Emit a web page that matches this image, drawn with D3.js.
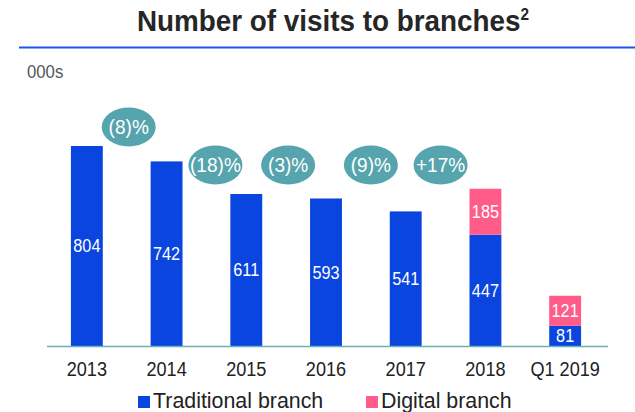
<!DOCTYPE html>
<html><head><meta charset="utf-8">
<script src="https://cdn.jsdelivr.net/npm/d3@7"></script>
<style>body{margin:0;background:#fff;} svg{display:block;font-family:"Liberation Sans",Arial,sans-serif;}</style>
</head><body>
<svg id="c" width="635" height="412"></svg>
<script>
const categories = ["2013","2014","2015","2016","2017","2018","Q1 2019"];
const traditional = [804,742,611,593,541,447,81];
const digital = [0,0,0,0,0,185,121];
const growthLabels = ["(8)%","(18)%","(3)%","(9)%","+17%"];
const seriesNames = ["Traditional branch","Digital branch"];

const svg = d3.select("#c");
const blue = "#0b45e0", pink = "#ff5c8a", teal = "#56a4ae";
const SX = 0.93;

function txt(parent, x, y, s, size, anchor, fill, sx){
  return parent.append("text")
    .attr("transform",`translate(${x},${y}) scale(${sx||SX},1)`)
    .attr("text-anchor",anchor||"start").attr("font-size",size).attr("fill",fill||"#222").text(s);
}

// title
const t = txt(svg,137,31,"","29","start","#262626",0.96).attr("font-weight","bold");
t.append("tspan").text("Number of visits to branches");
t.append("tspan").attr("font-size",16).attr("dy",-11).text("2");
svg.append("line").attr("x1",19).attr("x2",635).attr("y1",47.5).attr("y2",47.5)
  .attr("stroke","#1f55e8").attr("stroke-width",2);
txt(svg,27,78,"000s",18,"start","#555");

const x = d3.scaleBand().domain(categories).range([47,605]).paddingInner(0.6).paddingOuter(0.3);
const y = d3.scaleLinear().domain([0,900]).range([346,122.1]);

const g = svg.append("g");
categories.forEach((c,i)=>{
  const t0 = traditional[i], d0 = digital[i];
  const cx = x(c)+x.bandwidth()/2;
  g.append("rect").attr("x",x(c)).attr("width",x.bandwidth())
    .attr("y",y(t0)).attr("height",y(0)-y(t0)).attr("fill",blue);
  txt(g, cx, (y(0)+y(t0))/2+6.5, t0, 17.5, "middle", "#fff");
  if(d0>0){
    g.append("rect").attr("x",x(c)).attr("width",x.bandwidth())
      .attr("y",y(t0+d0)).attr("height",y(t0)-y(t0+d0)).attr("fill",pink);
    txt(g, cx, (y(t0)+y(t0+d0))/2+6.5, d0, 17.5, "middle", "#fff");
  }
});

svg.append("line").attr("x1",47).attr("x2",608).attr("y1",y(0)+0.5).attr("y2",y(0)+0.5)
  .attr("stroke","#6ab0b8").attr("stroke-width",1.5);

const xAxis = svg.append("g").attr("transform",`translate(0,${y(0)})`)
  .call(d3.axisBottom(x).tickSize(0));
xAxis.select(".domain").remove();
xAxis.selectAll("text").attr("y",30.5).attr("dy",0).attr("transform",`scale(${SX},1)`)
  .attr("font-size",19.5).attr("fill","#222").attr("font-family","Liberation Sans, Arial, sans-serif");

// growth bubbles
const bubbleY = [127,165,165,165,165];
const bubbleDx = [2,9,2,5,-5];
growthLabels.forEach((lab,i)=>{
  const cx = (x(categories[i])+x(categories[i+1]))/2 + x.bandwidth()/2 + bubbleDx[i];
  svg.append("ellipse").attr("cx",cx).attr("cy",bubbleY[i]).attr("rx",27).attr("ry",19.5).attr("fill",teal);
  txt(svg, cx, bubbleY[i]+7, lab, 20.5, "middle", "#fff");
});

// legend
const leg = [{n:seriesNames[0],c:blue,x:138},{n:seriesNames[1],c:pink,x:366}];
leg.forEach(l=>{
  svg.append("rect").attr("x",l.x).attr("y",396).attr("width",12).attr("height",12).attr("fill",l.c);
  txt(svg, l.x+15, 408, l.n, 23, "start", "#222");
});
</script>
</body></html>
